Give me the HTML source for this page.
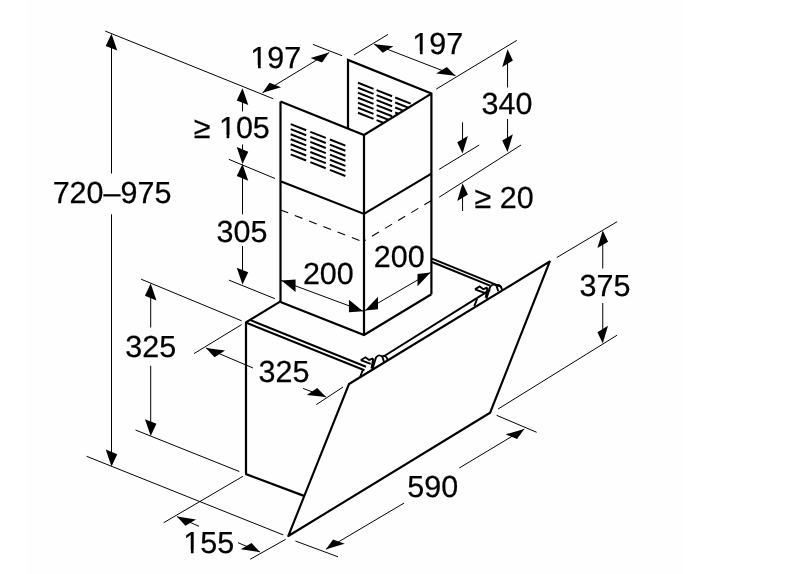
<!DOCTYPE html>
<html><head><meta charset="utf-8"><title>Cooker hood dimensions</title><style>
html,body{margin:0;padding:0;background:#fff;}
svg{display:block;}
text{font-family:"Liberation Sans",sans-serif;fill:#000;stroke:#000;stroke-width:0.25px;}
</style></head><body>
<svg width="800" height="574" viewBox="0 0 800 574">
<rect width="800" height="574" fill="#fff"/>
<rect x="27" width="655" height="574" fill="#fefefe"/>
<g stroke="#000" stroke-linecap="butt" stroke-linejoin="miter" fill="none">
<line x1="105.3" y1="31.1" x2="273.3" y2="98.8" stroke-width="1.0"/>
<line x1="111.5" y1="40" x2="111.5" y2="173.6" stroke-width="1.0"/>
<line x1="111.5" y1="214.3" x2="111.5" y2="460" stroke-width="1.0"/>
<path d="M111.5 33.8 L117.26 50.6 L105.74 46 Z" stroke="none" fill="#000"/>
<path d="M111.5 466.4 L117.26 454.2 L105.74 449.6 Z" stroke="none" fill="#000"/>
<line x1="86.6" y1="456.3" x2="283.2" y2="534.9" stroke-width="1.0"/>
<line x1="312.9" y1="44.4" x2="342.1" y2="55.75" stroke-width="1.0"/>
<line x1="262.5" y1="92.8" x2="329.1" y2="52.5" stroke-width="1.0"/>
<path d="M262.5 92.8 L281.11 87.28 L269.56 82.79 Z" stroke="none" fill="#000"/>
<path d="M329.1 52.5 L322.04 62.51 L310.49 58.02 Z" stroke="none" fill="#000"/>
<line x1="354" y1="55" x2="388.1" y2="34.35" stroke-width="1.0"/>
<line x1="374.1" y1="44.15" x2="455.5" y2="75.65" stroke-width="1.0"/>
<path d="M374.1 44.15 L393.39 46.35 L382.79 52.78 Z" stroke="none" fill="#000"/>
<path d="M455.5 75.65 L446.81 67.02 L436.21 73.45 Z" stroke="none" fill="#000"/>
<line x1="436.25" y1="89.1" x2="516.8" y2="40.4" stroke-width="1.0"/>
<line x1="507.55" y1="55" x2="507.55" y2="87.5" stroke-width="1.0"/>
<line x1="507.55" y1="119" x2="507.55" y2="146" stroke-width="1.0"/>
<path d="M507.55 49.2 L512.87 60.51 L502.23 66.89 Z" stroke="none" fill="#000"/>
<path d="M507.55 151.9 L512.87 134.21 L502.23 140.59 Z" stroke="none" fill="#000"/>
<line x1="439.2" y1="197.2" x2="521" y2="145" stroke-width="1.0"/>
<line x1="462.55" y1="122.3" x2="462.55" y2="148" stroke-width="1.0"/>
<path d="M462.55 153.6 L467.87 135.91 L457.23 142.29 Z" stroke="none" fill="#000"/>
<line x1="462.55" y1="188" x2="462.55" y2="211" stroke-width="1.0"/>
<path d="M462.55 183.3 L467.87 194.61 L457.23 200.99 Z" stroke="none" fill="#000"/>
<line x1="439.2" y1="169.3" x2="479.2" y2="145" stroke-width="1.0"/>
<line x1="242.5" y1="94" x2="242.5" y2="111.4" stroke-width="1.0"/>
<path d="M242.5 88.2 L248.26 105 L236.74 100.4 Z" stroke="none" fill="#000"/>
<line x1="242.5" y1="144.5" x2="242.5" y2="158" stroke-width="1.0"/>
<path d="M242.5 163.9 L248.26 151.7 L236.74 147.1 Z" stroke="none" fill="#000"/>
<line x1="228.8" y1="159.3" x2="275" y2="178.5" stroke-width="1.0"/>
<line x1="242.5" y1="168" x2="242.5" y2="214.4" stroke-width="1.0"/>
<path d="M242.5 163.9 L248.26 180.7 L236.74 176.1 Z" stroke="none" fill="#000"/>
<line x1="242.5" y1="246" x2="242.5" y2="278" stroke-width="1.0"/>
<path d="M242.5 284.5 L248.26 272.3 L236.74 267.7 Z" stroke="none" fill="#000"/>
<line x1="228.9" y1="280.1" x2="274.9" y2="298.7" stroke-width="1.0"/>
<line x1="281" y1="280.5" x2="363.5" y2="311.2" stroke-width="1.0"/>
<path d="M281.5 280.5 L295.55 291.96 L295.55 279.56 Z" stroke="none" fill="#000"/>
<path d="M363 311.2 L348.95 312.14 L348.95 299.74 Z" stroke="none" fill="#000"/>
<line x1="365.3" y1="310.5" x2="430.3" y2="272.6" stroke-width="1.0"/>
<path d="M365 310.5 L377.97 309.17 L377.97 296.77 Z" stroke="none" fill="#000"/>
<path d="M430.5 272.6 L417.53 286.34 L417.53 273.94 Z" stroke="none" fill="#000"/>
<line x1="141.1" y1="279.2" x2="241.6" y2="320.8" stroke-width="1.0"/>
<line x1="150.7" y1="290" x2="150.7" y2="327.5" stroke-width="1.0"/>
<line x1="150.7" y1="365.8" x2="150.7" y2="430" stroke-width="1.0"/>
<path d="M150.7 283.6 L156.46 300.4 L144.94 295.8 Z" stroke="none" fill="#000"/>
<path d="M150.7 436 L156.46 423.8 L144.94 419.2 Z" stroke="none" fill="#000"/>
<line x1="135.5" y1="430" x2="239.3" y2="471.5" stroke-width="1.0"/>
<line x1="194" y1="353.6" x2="241.6" y2="324.6" stroke-width="1.0"/>
<line x1="206" y1="348" x2="253" y2="368" stroke-width="1.0"/>
<line x1="303" y1="388.4" x2="326" y2="397" stroke-width="1.0"/>
<path d="M206 348 L225.07 350.61 L214.53 357.14 Z" stroke="none" fill="#000"/>
<path d="M326 397 L317.21 388.12 L306.86 394.95 Z" stroke="none" fill="#000"/>
<line x1="316.4" y1="404.6" x2="343" y2="387" stroke-width="1.0"/>
<line x1="556.8" y1="257.5" x2="617.1" y2="221.7" stroke-width="1.0"/>
<line x1="498.1" y1="409" x2="617.1" y2="335.2" stroke-width="1.0"/>
<line x1="602.75" y1="236" x2="602.75" y2="268.5" stroke-width="1.0"/>
<line x1="602.75" y1="303" x2="602.75" y2="338" stroke-width="1.0"/>
<path d="M602.75 230.4 L608.08 241.73 L597.42 248.07 Z" stroke="none" fill="#000"/>
<path d="M602.75 343.6 L608.02 325.83 L597.48 332.37 Z" stroke="none" fill="#000"/>
<line x1="163.7" y1="522.7" x2="242.9" y2="476.3" stroke-width="1.0"/>
<line x1="250.2" y1="559.3" x2="285.6" y2="539.3" stroke-width="1.0"/>
<line x1="177" y1="516.6" x2="199" y2="526.3" stroke-width="1.0"/>
<line x1="238" y1="542.7" x2="260" y2="552" stroke-width="1.0"/>
<path d="M177 516.6 L196.06 519.5 L185.39 525.8 Z" stroke="none" fill="#000"/>
<path d="M260 552 L251.57 543.09 L240.8 549.23 Z" stroke="none" fill="#000"/>
<line x1="496.6" y1="415.3" x2="536.6" y2="432.25" stroke-width="1.0"/>
<line x1="295.4" y1="541" x2="338" y2="556.8" stroke-width="1.0"/>
<line x1="524.25" y1="429" x2="459.25" y2="468" stroke-width="1.0"/>
<line x1="404" y1="503.1" x2="326" y2="549.25" stroke-width="1.0"/>
<path d="M524.25 429 L517.1 439.12 L505.67 434.32 Z" stroke="none" fill="#000"/>
<path d="M326 549.25 L344.72 543.76 L333.09 539.46 Z" stroke="none" fill="#000"/>
<path d="M280.5 209.9 L363.5 242" stroke-width="1.1" stroke-dasharray="8.2 7.1" fill="none"/>
<path d="M431.4 200.5 L364 241" stroke-width="1.1" stroke-dasharray="8.2 7.1" fill="none"/>
<line x1="280.5" y1="101.6" x2="280.5" y2="301.9" stroke-width="2.2"/>
<path d="M280.5 101.6 L364 134.9 L431.4 93.6" stroke-width="2.2" fill="none"/>
<line x1="364" y1="134.9" x2="364" y2="335" stroke-width="2.2"/>
<path d="M348 128.5 L348 59.9 L431.4 93.6 L431.4 294.2" stroke-width="2.2" fill="none"/>
<path d="M280.5 181.2 L364 213.9 L431.4 173.6" stroke-width="2.2" fill="none"/>
<path d="M280.5 301.9 L364 335 L431.4 294.2" stroke-width="2.2" fill="none"/>
<path d="M246 474 L246 322.3 L280.5 301.4" stroke-width="2.2" fill="none"/>
<line x1="245.4" y1="473.9" x2="304" y2="495.9" stroke-width="2.2"/>
<line x1="249.9" y1="319.9" x2="366" y2="366.8" stroke-width="2.0"/>
<line x1="245.75" y1="322.5" x2="364.5" y2="370.3" stroke-width="2.0"/>
<line x1="383.5" y1="356.5" x2="490" y2="289.9" stroke-width="2.0"/>
<line x1="432" y1="258.6" x2="501.3" y2="286.9" stroke-width="2.0"/>
<line x1="432" y1="262" x2="490" y2="285.6" stroke-width="2.0"/>
<path d="M360.75 360.2 L365.45 357.3 L369.1 360 L373.3 358.3 M360.75 360.2 L370.7 363.8 M373.3 358.3 L371.5 368.5 M372.25 369.5 L376 357.5 Q379 353.5 382.5 357 L384 362 M382.5 356 Q386.5 355 387.8 360.5 M360.1 377 L363 369.5" stroke-width="1.9" fill="none"/>
<path d="M474.95 289.4 L479.65 286.5 L483.3 289.2 L487.5 287.5 M474.95 289.4 L484.9 293.0 M487.5 287.5 L485.7 297.7 M486.45 298.7 L490.2 286.7 Q493.2 282.7 496.7 286.2 L498.2 291.2 M496.7 285.2 Q500.7 284.2 502.0 289.7 M474.3 306.2 L477.2 298.7" stroke-width="1.9" fill="none"/>
<path d="M349 384 L549.75 261.5 L490.1 412.75 L288.3 536 Z" stroke-width="2.1" stroke-linejoin="round" fill="none"/>
<defs><clipPath id="cb"><path d="M340 40 L440 40 L440 87.9 L340 149.7 Z"/></clipPath></defs>
<line x1="290.7" y1="124.1" x2="306.2" y2="130.21" stroke-width="2.0"/>
<line x1="290.7" y1="129.15" x2="306.2" y2="135.26" stroke-width="2.0"/>
<line x1="290.7" y1="134.2" x2="306.2" y2="140.31" stroke-width="2.0"/>
<line x1="290.7" y1="139.25" x2="306.2" y2="145.36" stroke-width="2.0"/>
<line x1="290.7" y1="144.3" x2="306.2" y2="150.41" stroke-width="2.0"/>
<line x1="290.7" y1="149.35" x2="306.2" y2="155.46" stroke-width="2.0"/>
<line x1="290.7" y1="154.4" x2="306.2" y2="160.51" stroke-width="2.0"/>
<line x1="310.3" y1="131.82" x2="325.8" y2="137.93" stroke-width="2.0"/>
<line x1="310.3" y1="136.87" x2="325.8" y2="142.98" stroke-width="2.0"/>
<line x1="310.3" y1="141.92" x2="325.8" y2="148.03" stroke-width="2.0"/>
<line x1="310.3" y1="146.97" x2="325.8" y2="153.08" stroke-width="2.0"/>
<line x1="310.3" y1="152.02" x2="325.8" y2="158.13" stroke-width="2.0"/>
<line x1="310.3" y1="157.07" x2="325.8" y2="163.18" stroke-width="2.0"/>
<line x1="310.3" y1="162.12" x2="325.8" y2="168.23" stroke-width="2.0"/>
<line x1="329.9" y1="139.54" x2="345.4" y2="145.65" stroke-width="2.0"/>
<line x1="329.9" y1="144.59" x2="345.4" y2="150.7" stroke-width="2.0"/>
<line x1="329.9" y1="149.64" x2="345.4" y2="155.75" stroke-width="2.0"/>
<line x1="329.9" y1="154.69" x2="345.4" y2="160.8" stroke-width="2.0"/>
<line x1="329.9" y1="159.74" x2="345.4" y2="165.85" stroke-width="2.0"/>
<line x1="329.9" y1="164.79" x2="345.4" y2="170.9" stroke-width="2.0"/>
<line x1="329.9" y1="169.84" x2="345.4" y2="175.95" stroke-width="2.0"/>
<g clip-path="url(#cb)">
<line x1="358" y1="82.8" x2="373.5" y2="88.91" stroke-width="2.0"/>
<line x1="358" y1="87.8" x2="373.5" y2="93.91" stroke-width="2.0"/>
<line x1="358" y1="92.8" x2="373.5" y2="98.91" stroke-width="2.0"/>
<line x1="358" y1="97.8" x2="373.5" y2="103.91" stroke-width="2.0"/>
<line x1="358" y1="102.8" x2="373.5" y2="108.91" stroke-width="2.0"/>
<line x1="358" y1="107.8" x2="373.5" y2="113.91" stroke-width="2.0"/>
<line x1="358" y1="112.8" x2="373.5" y2="118.91" stroke-width="2.0"/>
<line x1="376.6" y1="90.13" x2="392.1" y2="96.24" stroke-width="2.0"/>
<line x1="376.6" y1="95.13" x2="392.1" y2="101.24" stroke-width="2.0"/>
<line x1="376.6" y1="100.13" x2="392.1" y2="106.24" stroke-width="2.0"/>
<line x1="376.6" y1="105.13" x2="392.1" y2="111.24" stroke-width="2.0"/>
<line x1="376.6" y1="110.13" x2="392.1" y2="116.24" stroke-width="2.0"/>
<line x1="376.6" y1="115.13" x2="392.1" y2="121.24" stroke-width="2.0"/>
<line x1="376.6" y1="120.13" x2="392.1" y2="126.24" stroke-width="2.0"/>
<line x1="395.2" y1="97.46" x2="410.7" y2="103.56" stroke-width="2.0"/>
<line x1="395.2" y1="102.46" x2="410.7" y2="108.56" stroke-width="2.0"/>
<line x1="395.2" y1="107.46" x2="410.7" y2="113.56" stroke-width="2.0"/>
<line x1="395.2" y1="112.46" x2="410.7" y2="118.56" stroke-width="2.0"/>
<line x1="395.2" y1="117.46" x2="410.7" y2="123.56" stroke-width="2.0"/>
<line x1="395.2" y1="122.46" x2="410.7" y2="128.56" stroke-width="2.0"/>
<line x1="395.2" y1="127.46" x2="410.7" y2="133.56" stroke-width="2.0"/>
</g>
</g>
<g text-rendering="geometricPrecision" style="filter:opacity(1)">
<text x="52.64" y="203.35" font-size="30.5">720–975</text>
<text x="250.36" y="68.1" font-size="30.5">197</text>
<text x="412.26" y="54.1" font-size="30.5">197</text>
<text x="193.71" y="138.35" font-size="30.5">≥ 105</text>
<text x="216.57" y="242.25" font-size="30.5">305</text>
<text x="481.57" y="114.15" font-size="30.5">340</text>
<text x="474.54" y="207.75" font-size="30.5">≥ 20</text>
<text x="302.88" y="283.65" font-size="30.5">200</text>
<text x="373.78" y="266.5" font-size="30.5">200</text>
<text x="579.62" y="296.15" font-size="30.5">375</text>
<text x="125.27" y="357.45" font-size="30.5">325</text>
<text x="258.62" y="382.25" font-size="30.5">325</text>
<text x="183.23" y="553.34" font-size="30.5">155</text>
<text x="407.29" y="496.6" font-size="30.5">590</text>
</g>
<g fill="#fefefe" stroke="none">
<rect x="252" y="65" width="6.03" height="4"/>
<rect x="260.72" y="65" width="5.28" height="4"/>
<rect x="414" y="51" width="5.93" height="4"/>
<rect x="422.62" y="51" width="5.38" height="4"/>
<rect x="221" y="135" width="5.59" height="4"/>
<rect x="229.28" y="135" width="5.72" height="4"/>
<rect x="185" y="550" width="5.9" height="4"/>
<rect x="193.59" y="550" width="5.41" height="4"/>
</g>
</svg>
</body></html>
